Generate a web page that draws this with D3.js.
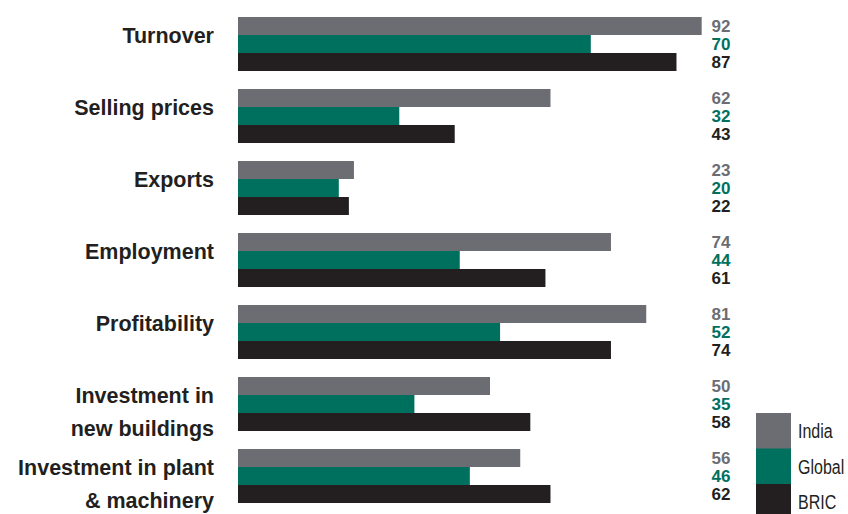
<!DOCTYPE html>
<html>
<head>
<meta charset="utf-8">
<script src="https://cdn.jsdelivr.net/npm/d3@7"></script>
<style>
  html, body { margin: 0; padding: 0; background: #ffffff; }
  svg { display: block; }
</style>
</head>
<body>
<svg id="chart" width="848" height="514"></svg>
<script>
// Survey categories (each label may wrap onto two lines)
const categories = [
  ["Turnover"],
  ["Selling prices"],
  ["Exports"],
  ["Employment"],
  ["Profitability"],
  ["Investment in", "new buildings"],
  ["Investment in plant", "& machinery"]
];
const seriesNames = ["India", "Global", "BRIC"];
const indiaValues  = [92, 62, 23, 74, 81, 50, 56];
const globalValues = [70, 32, 20, 44, 52, 35, 46];
const bricValues   = [87, 43, 22, 61, 74, 58, 62];
const seriesColors = ["#6c6d73", "#00705e", "#231f20"];

const seriesValues = [indiaValues, globalValues, bricValues];
const keys = categories.map(c => c.join(" "));

const svg = d3.select("#chart");

const x = d3.scaleLinear().domain([0, 100]).range([238, 742]);
const y = d3.scaleBand().domain(keys).range([17, 503]).paddingInner(0.25).paddingOuter(0);
const ySub = d3.scaleBand().domain(seriesNames).range([0, y.bandwidth()]);
const color = d3.scaleOrdinal().domain(seriesNames).range(seriesColors);

const rows = categories.map((c, i) => ({
  key: keys[i],
  lines: c,
  values: seriesNames.map((s, j) => ({ series: s, value: seriesValues[j][i] }))
}));

const group = svg.selectAll("g.row").data(rows).join("g")
  .attr("class", "row")
  .attr("transform", d => `translate(0,${y(d.key)})`);

// bars
group.selectAll("rect").data(d => d.values).join("rect")
  .attr("x", x(0))
  .attr("y", d => ySub(d.series))
  .attr("width", d => x(d.value) - x(0))
  .attr("height", ySub.bandwidth())
  .attr("fill", d => color(d.series));

// value labels
group.selectAll("text.val").data(d => d.values).join("text")
  .attr("class", "val")
  .attr("x", 721)
  .attr("y", d => ySub(d.series) + ySub.bandwidth() / 2 + 6)
  .attr("text-anchor", "middle")
  .attr("font-family", "Liberation Sans, Arial, sans-serif")
  .attr("font-weight", "bold")
  .attr("font-size", "17px")
  .attr("fill", d => color(d.series))
  .text(d => d.value);

// category labels
group.append("text")
  .attr("text-anchor", "end")
  .attr("font-family", "Liberation Sans, Arial, sans-serif")
  .attr("font-weight", "bold")
  .attr("font-size", "21.5px")
  .attr("fill", "#231f20")
  .selectAll("tspan").data(d => d.lines).join("tspan")
  .attr("x", 214)
  .attr("y", (d, i) => 26 + i * 33)
  .text(d => d);

// legend
const legend = svg.append("g").attr("transform", "translate(756,413)");
const legItem = legend.selectAll("g").data(seriesNames).join("g")
  .attr("transform", (d, i) => `translate(0,${i * 35.5})`);
legItem.append("rect")
  .attr("width", 35)
  .attr("height", 36)
  .attr("fill", d => color(d));
// condensed legend type
legItem.append("text")
  .attr("transform", "translate(42,25) scale(0.8,1)")
  .attr("font-family", "Liberation Sans, Arial, sans-serif")
  .attr("font-size", "20px")
  .attr("fill", "#231f20")
  .text(d => d);
</script>
</body>
</html>
